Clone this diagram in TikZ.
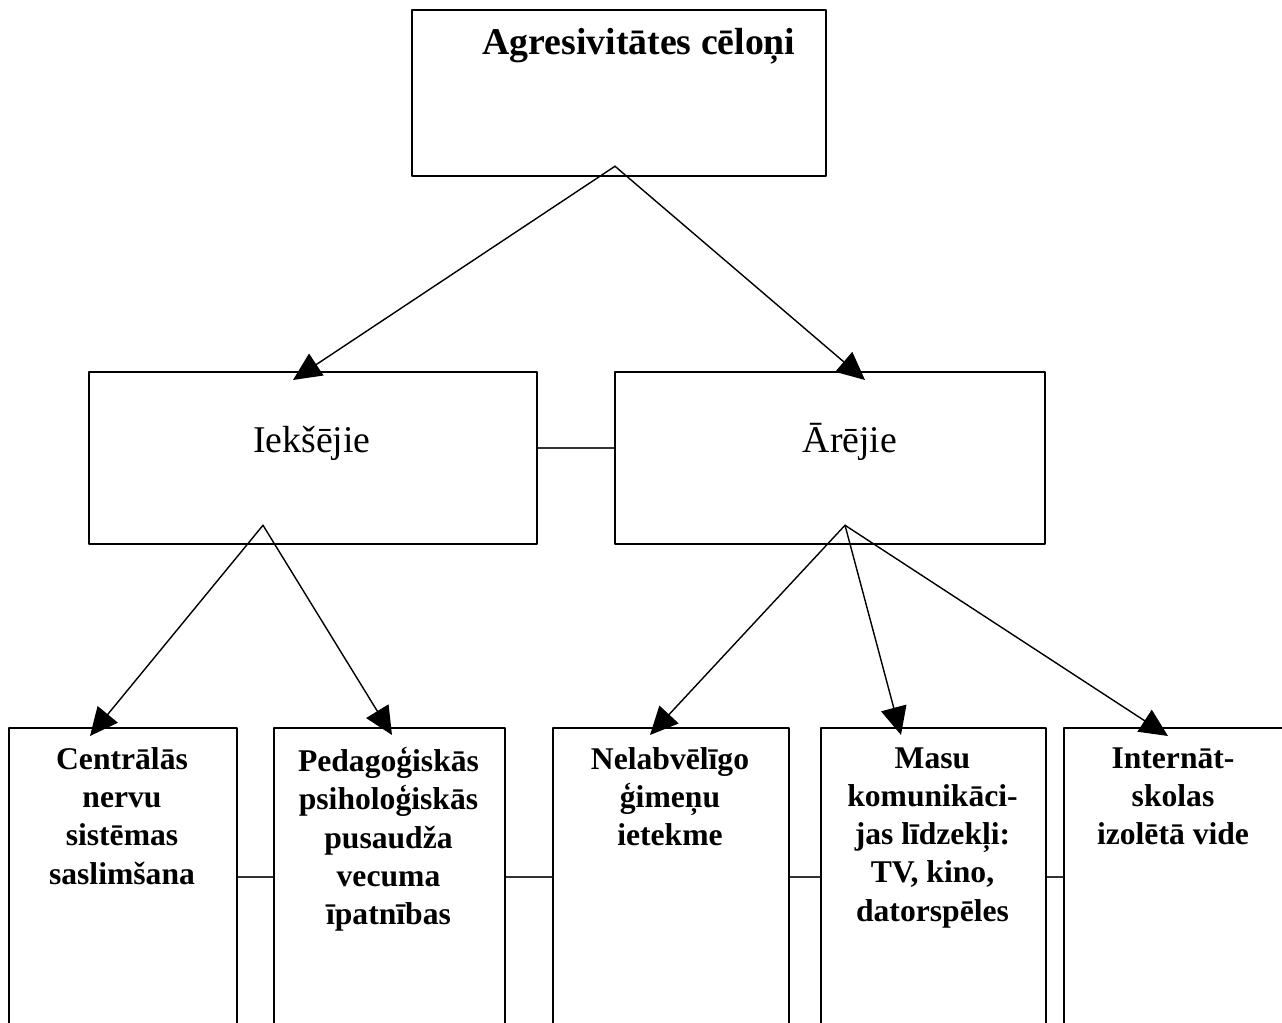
\documentclass[tikz,border=0pt]{standalone}
\usepackage{fontspec}
\setmainfont{Liberation Serif}
\usetikzlibrary{arrows.meta}

\tikzset{
  box/.style={draw, line width=1.3pt, inner sep=0pt, anchor=north west},
  conn/.style={line width=0.8pt, -{Triangle[length=0.56cm,width=0.52cm]}},
  link/.style={line width=0.7pt, draw=black!80},
  btxt/.style={align=center, inner sep=0pt, anchor=north, font=\fontsize{18}{21.8}\selectfont\bfseries},
}

\begin{document}
\begin{tikzpicture}[line cap=round,line join=round,x=0.02cm,y=-0.02cm]
\useasboundingbox (0,0) rectangle (1282,1023);
\clip (0,0) rectangle (1282,1023);
% boxes
\node[box, minimum width=8.28cm, minimum height=3.32cm] (celoni) at (411,9) {};
\node[box, minimum width=8.96cm, minimum height=3.44cm] (ieks) at (88,371) {};
\node[box, minimum width=8.6cm, minimum height=3.44cm] (arej) at (614,371) {};
\node[box, minimum width=4.56cm, minimum height=6.4cm] (cns) at (8,727) {};
\node[box, minimum width=4.62cm, minimum height=6.4cm] (ped) at (273,727) {};
\node[box, minimum width=4.72cm, minimum height=6.4cm] (nel) at (552,727) {};
\node[box, minimum width=4.5cm, minimum height=6.4cm] (mas) at (820,727) {};
\node[box, minimum width=4.44cm, minimum height=6.4cm] (int) at (1063,727) {};
% texts
\node[font=\fontsize{21.5}{26}\selectfont\bfseries, anchor=base] (celoniT) at (639,55) {Agresivitātes cēloņi};
\node[font=\fontsize{21.5}{26}\selectfont, anchor=base] (ieksT) at (312,453) {Iekšējie};
\node[font=\fontsize{21.5}{26}\selectfont, anchor=base] (arejT) at (850,453) {Ārējie};
\node[btxt] (cnsT) at (122,747) {Centrālās\\nervu\\sistēmas\\saslimšana};
\node[btxt] (pedT) at (388.5,747) {Pedagoģiskās\\psiholoģiskās\\pusaudža\\vecuma\\īpatnības};
\node[btxt] (nelT) at (670,747) {Nelabvēlīgo\\ģimeņu\\ietekme};
\node[btxt] (masT) at (932.5,747) {Masu\\komunikāci-\\jas līdzekļi:\\TV, kino,\\datorspēles};
\node[btxt] (intT) at (1173,747) {Internāt-\\skolas\\izolētā vide};
% side links
\draw[link] ([yshift=-1.54cm]ieks.north east) -- ([yshift=-1.54cm]arej.north west);
\draw[link] ([yshift=-3cm]cns.north east) -- ([yshift=-3cm]ped.north west);
\draw[link] ([yshift=-3cm]ped.north east) -- ([yshift=-3cm]nel.north west);
\draw[link] ([yshift=-3cm]nel.north east) -- ([yshift=-3cm]mas.north west);
\draw[link] ([yshift=-3cm]mas.north east) -- ([yshift=-3cm]int.north west);
% arrows
\coordinate (celoniV) at ([shift={(204,-11)}]celoni.south west);
\draw[conn] (celoniV) -- ([shift={(205,9)}]ieks.north west);
\draw[conn] (celoniV) -- ([shift={(251,9)}]arej.north west);
\coordinate (ieksV) at ([shift={(175,-20)}]ieks.south west);
\draw[conn] (ieksV) -- ([shift={(82,9)}]cns.north west);
\draw[conn] (ieksV) -- ([shift={(119,8)}]ped.north west);
\coordinate (arejV) at ([shift={(231,-20)}]arej.south west);
\draw[conn] (arejV) -- ([shift={(98,8)}]nel.north west);
\draw[conn] (arejV) -- ([shift={(81,8)}]mas.north west);
\draw[conn] (arejV) -- ([shift={(105,9)}]int.north west);
\end{tikzpicture}
\end{document}
